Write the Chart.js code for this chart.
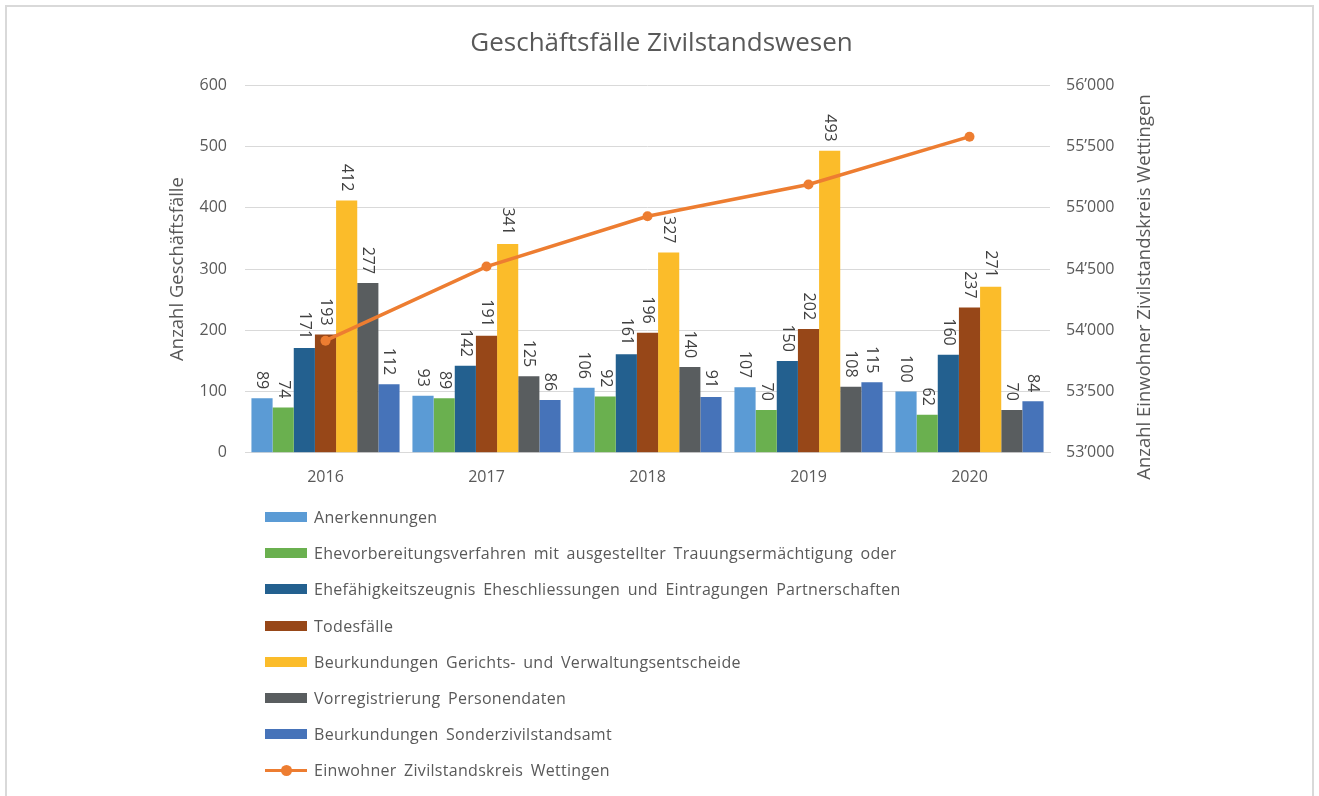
<!DOCTYPE html>
<html>
<head>
<meta charset="utf-8">
<script src="https://cdn.jsdelivr.net/npm/chart.js@4/dist/chart.umd.min.js"></script>
<style>
  body { margin: 0; background: #fff; font-family: "Open Sans", sans-serif; }
  #rahmen { position: absolute; left: 5px; top: 5px; width: 1305px; height: 800px;
            border: 2px solid #d9d9d9; border-bottom: none; pointer-events: none; }
  #wrap { position: absolute; left: 0; top: 0; width: 1319px; height: 796px; }
  #legende { position: absolute; left: 265px; top: 499px; color: #595959; font-size: 16px;
             letter-spacing: 0.3px; word-spacing: 3px; }
  .eintrag { height: 36.2px; display: flex; align-items: center; white-space: nowrap; }
  .farbe { width: 42px; height: 10px; margin-right: 7px; }
  .linie { width: 42px; height: 3px; margin-right: 7px; position: relative; }
  .linie span { position: absolute; left: 16px; top: -4px; width: 11px; height: 11px; border-radius: 50%; }
</style>
</head>
<body>
<div id="wrap"><canvas id="grafik" width="1319" height="796"></canvas></div>
<div id="rahmen"></div>
<div id="legende"></div>
<script>
// Jahre
var jahre = ['2016', '2017', '2018', '2019', '2020'];

// Geschaeftsfaelle pro Kategorie
var anerkennungen = [89, 93, 106, 107, 100];
var ehevorbereitung = [74, 89, 92, 70, 62];
var ehefaehigkeit = [171, 142, 161, 150, 160];
var todesfaelle = [193, 191, 196, 202, 237];
var gerichtsentscheide = [412, 341, 327, 493, 271];
var vorregistrierung = [277, 125, 140, 108, 70];
var sonderamt = [112, 86, 91, 115, 84];

// Einwohner (rechte Achse)
var einwohner = [53915, 54520, 54930, 55190, 55580];

var namen = [
  'Anerkennungen',
  'Ehevorbereitungsverfahren mit ausgestellter Trauungsermächtigung oder',
  'Ehefähigkeitszeugnis Eheschliessungen und Eintragungen Partnerschaften',
  'Todesfälle',
  'Beurkundungen Gerichts- und Verwaltungsentscheide',
  'Vorregistrierung Personendaten',
  'Beurkundungen Sonderzivilstandsamt'
];
var reihen = [anerkennungen, ehevorbereitung, ehefaehigkeit, todesfaelle, gerichtsentscheide, vorregistrierung, sonderamt];
var farben = ['#5B9BD5', '#6AB04F', '#23608F', '#974718', '#FBBC2A', '#595D5F', '#4673B9'];
var textfarbe = '#595959';
var schrift = '"Open Sans", sans-serif';

// Tausender mit Apostroph
function formatZahl(v) {
  var s = String(Math.round(v));
  return s.replace(/\B(?=(\d{3})+(?!\d))/g, '\u2019');
}

var datensaetze = [];
reihen.forEach(function (werte, i) {
  datensaetze.push({
    type: 'bar',
    label: namen[i],
    data: werte,
    backgroundColor: farben[i],
    borderWidth: 0,
    yAxisID: 'y',
    order: 1,
    categoryPercentage: 0.92,
    barPercentage: 1.0
  });
});
datensaetze.push({
  type: 'line',
  label: 'Einwohner Zivilstandskreis Wettingen',
  data: einwohner,
  borderColor: '#ED7D31',
  backgroundColor: '#ED7D31',
  borderWidth: 3.5,
  pointRadius: 5,
  pointBackgroundColor: '#ED7D31',
  pointBorderWidth: 0,
  yAxisID: 'y2',
  order: 0,
  tension: 0
});

// Beschriftung der Balken, gedreht
var balkenWerte = {
  id: 'balkenWerte',
  afterDatasetsDraw: function (chart) {
    var ctx = chart.ctx;
    ctx.save();
    ctx.font = '16px ' + schrift;
    ctx.fillStyle = '#404040';
    chart.data.datasets.forEach(function (ds, i) {
      if (ds.type !== 'bar') return;
      var meta = chart.getDatasetMeta(i);
      meta.data.forEach(function (el, j) {
        ctx.save();
        ctx.translate(el.x, el.y - 9);
        ctx.rotate(Math.PI / 2);
        ctx.textAlign = 'right';
        ctx.textBaseline = 'middle';
        ctx.fillText(String(ds.data[j]), 0, 0);
        ctx.restore();
      });
    });
    ctx.restore();
  }
};

// rechte Achsenbeschriftung (von unten nach oben gelesen)
var rechterTitel = {
  id: 'rechterTitel',
  afterDraw: function (chart) {
    var ctx = chart.ctx;
    ctx.save();
    ctx.font = '18.5px ' + schrift;
    ctx.fillStyle = textfarbe;
    ctx.translate(1145, 287);
    ctx.rotate(-Math.PI / 2);
    ctx.textAlign = 'center';
    ctx.textBaseline = 'middle';
    ctx.fillText('Anzahl Einwohner Zivilstandskreis Wettingen', 0, 0);
    ctx.restore();
  }
};

var ctx = document.getElementById('grafik').getContext('2d');
var grafik = new Chart(ctx, {
  data: { labels: jahre, datasets: datensaetze },
  options: {
    responsive: false,
    animation: false,
    layout: { padding: { top: 26, left: 163, right: 159, bottom: 294 } },
    plugins: {
      legend: { display: false },
      tooltip: { enabled: false },
      title: {
        display: true,
        text: 'Geschäftsfälle Zivilstandswesen',
        color: textfarbe,
        font: { family: schrift, size: 26, weight: 'normal' },
        padding: { top: 2, bottom: 26 }
      }
    },
    scales: {
      x: {
        grid: { display: false, drawTicks: false },
        border: { display: true, color: '#d9d9d9', width: 1 },
        ticks: { color: textfarbe, font: { family: schrift, size: 16 }, padding: 15 }
      },
      y: {
        position: 'left',
        min: 0, max: 600,
        ticks: { stepSize: 100, color: textfarbe, font: { family: schrift, size: 16 }, padding: 18 },
        grid: { color: '#d9d9d9', drawTicks: false },
        border: { display: false },
        title: {
          display: true,
          text: 'Anzahl Geschäftsfälle',
          color: textfarbe,
          font: { family: schrift, size: 18.5 },
          padding: { top: 4, bottom: 0 }
        },
        afterFit: function (s) { s.width = 82; }
      },
      y2: {
        position: 'right',
        min: 53000, max: 56000,
        ticks: {
          stepSize: 500, color: textfarbe, font: { family: schrift, size: 16 }, padding: 16,
          callback: function (v) { return formatZahl(v); }
        },
        grid: { display: false, drawTicks: false },
        border: { display: false },
        afterFit: function (s) { s.width = 110; }
      }
    }
  },
  plugins: [balkenWerte, rechterTitel]
});

// Legende als HTML, aus den Datensaetzen erzeugt
var legende = document.getElementById('legende');
grafik.data.datasets.forEach(function (ds) {
  var zeile = document.createElement('div');
  zeile.className = 'eintrag';
  var zeichen = document.createElement('div');
  if (ds.type === 'line') {
    zeichen.className = 'linie';
    zeichen.style.background = ds.borderColor;
    var punkt = document.createElement('span');
    punkt.style.background = ds.borderColor;
    zeichen.appendChild(punkt);
  } else {
    zeichen.className = 'farbe';
    zeichen.style.background = ds.backgroundColor;
  }
  var text = document.createElement('span');
  text.textContent = ds.label;
  zeile.appendChild(zeichen);
  zeile.appendChild(text);
  legende.appendChild(zeile);
});
</script>
</body>
</html>
